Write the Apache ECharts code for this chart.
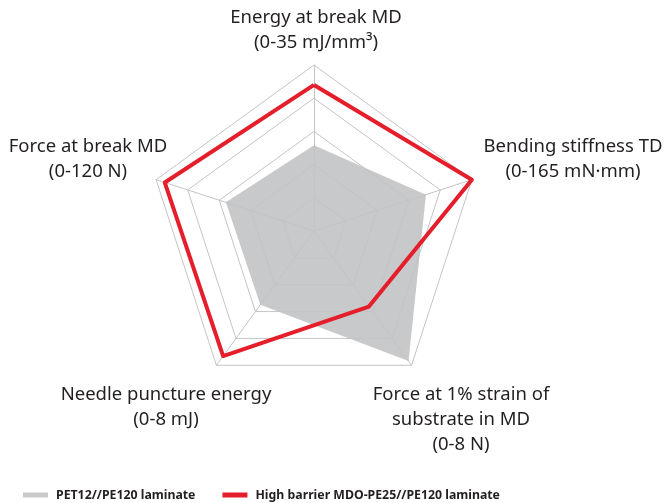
<!DOCTYPE html>
<html>
<head>
<meta charset="utf-8">
<script src="https://cdn.jsdelivr.net/npm/echarts@6/dist/echarts.min.js"></script>
<style>
  html, body { margin: 0; padding: 0; background: #fff; }
  #chart { width: 666px; height: 503px; }
</style>
</head>
<body>
<div id="chart"></div>
<script>
// axes, counterclockwise from the top
const axisNames = [
  'Energy at break MD',
  'Force at break MD',
  'Needle puncture energy',
  'Force at 1% strain of substrate in MD',
  'Bending stiffness TD'
];
const axisMax = [35, 120, 8, 8, 165];

const seriesNames = ['PET12//PE120 laminate', 'High barrier MDO-PE25//PE120 laminate'];
const petValues = [18.1, 67, 4.4, 7.75, 117];
const mdoValues = [30.8, 113.4, 7.45, 4.5, 165];

const FONT = '"Noto Sans", sans-serif';
const chart = echarts.init(document.getElementById('chart'));

const label = (x, y, text) => ({
  type: 'text',
  x: x,
  y: y,
  style: {
    text: text,
    fontFamily: FONT,
    fontSize: 18.5,
    lineHeight: 25,
    fill: '#231f20',
    align: 'center',
    verticalAlign: 'top'
  }
});

chart.setOption({
  animation: false,
  legend: {
    left: 18,
    top: 484,
    itemWidth: 25,
    itemHeight: 5,
    itemGap: 27,
    icon: 'rect',
    data: seriesNames,
    textStyle: { fontFamily: FONT, fontSize: 12.3, fontWeight: 'bold', color: '#231f20', padding: [0, 0, 0, 3] }
  },
  radar: {
    center: [314, 231],
    radius: 166,
    startAngle: 90,
    splitNumber: 5,
    shape: 'polygon',
    z: 2,
    indicator: axisNames.map((n, i) => ({ name: n, min: 0, max: axisMax[i] })),
    axisName: { show: false },
    axisLine: { lineStyle: { color: '#c4c4c4', width: 1 } },
    splitLine: { lineStyle: { color: '#c4c4c4', width: 1 } },
    splitArea: { show: false }
  },
  graphic: [
    label(316, 5, 'Energy at break MD\n(0-35 mJ/mm³)'),
    label(88, 134, 'Force at break MD\n(0-120 N)'),
    label(573, 134, 'Bending stiffness TD\n(0-165 mN·mm)'),
    label(166, 382, 'Needle puncture energy\n(0-8 mJ)'),
    label(461, 382, 'Force at 1% strain of\nsubstrate in MD\n(0-8 N)')
  ],
  series: [
    {
      type: 'radar',
      z: 1,
      symbol: 'none',
      itemStyle: { color: '#c8c9cb' },
      lineStyle: { width: 0 },
      areaStyle: { color: '#c8c9cb', opacity: 1 },
      data: [{ name: seriesNames[0], value: petValues }]
    },
    {
      type: 'radar',
      z: 3,
      symbol: 'none',
      itemStyle: { color: '#e41e2b' },
      lineStyle: { color: '#e41e2b', width: 4 },
      data: [{ name: seriesNames[1], value: mdoValues }]
    }
  ]
});
</script>
</body>
</html>
